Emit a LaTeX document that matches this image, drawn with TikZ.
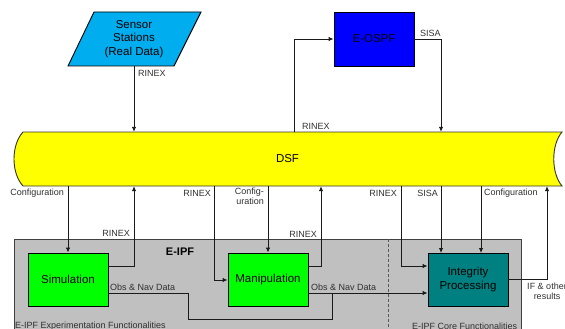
\documentclass[tikz,border=0pt]{standalone}
\usepackage{fontspec}
\setmainfont{Liberation Sans}
\usetikzlibrary{arrows.meta}
\definecolor{ipfgray}{HTML}{C0C0C0}
\definecolor{simgreen}{HTML}{00FF00}
\definecolor{ospfblue}{HTML}{0000FF}
\definecolor{intteal}{HTML}{008080}
\definecolor{dsfyellow}{HTML}{FFFF00}
\definecolor{linecol}{HTML}{1A1A1A}
\definecolor{labcol}{HTML}{303030}
\tikzset{
  conn/.style={draw=linecol, line width=0.9pt},
  arr/.style={conn, -{Latex[length=5pt,width=4.5pt]}},
  lab/.style={font=\fontsize{9}{10}\selectfont, text=labcol, inner sep=0pt},
  procbox/.style={draw=black, line width=0.9pt, minimum width=80pt, minimum height=53pt,
    font=\fontsize{11.5}{13.5}\selectfont, align=center, inner sep=0pt},
}
\begin{document}
\begin{tikzpicture}[x=1pt,y=-1pt]
\useasboundingbox (0,0) rectangle (565,329);
% E-IPF background
\begin{scope}
\clip (0,0) rectangle (565,329);
\fill[ipfgray, draw=black!75, line width=0.8pt] (14,239) rectangle (521,345);
\draw[black!65, line width=1pt, dash pattern=on 3pt off 2pt] (388,239) -- (388,335);
\end{scope}
\node[font=\bfseries\fontsize{11}{13}\selectfont, inner sep=0pt] (eipf) at (180,252) {E-IPF};
\node[lab, anchor=west] (expf) at (15,326) {E-IPF Experimentation Functionalities};
\node[lab, anchor=west] (coref) at (412,326) {E-IPF Core Functionalities};

% Sensor stations parallelogram
\filldraw[fill=cyan, draw=black, line width=0.9pt] (68,66) -- (94,12) -- (201,12) -- (174,66) -- cycle;
\node[font=\fontsize{11.5}{13.5}\selectfont, align=center, minimum height=54pt, inner sep=0pt] (sens) at (134,39) {Sensor\\Stations\\(Real Data)};

% E-OSPF
\node[procbox, fill=ospfblue, minimum height=54pt] (ospf) at (374,39) {E-OSPF};

% DSF shape
\filldraw[fill=dsfyellow, draw=black!80, line width=0.9pt]
  (23,132) -- (562,132) .. controls (551,145) and (551,173) .. (562,186)
  -- (23,186) .. controls (11,173) and (11,145) .. (23,132) -- cycle;
\node[inner sep=0pt, minimum width=539pt, minimum height=54pt, font=\fontsize{11.5}{13.5}\selectfont] (dsf) at (292.5,159) {};
\node[font=\fontsize{11.5}{13.5}\selectfont, inner sep=0pt] (dsflab) at (287.5,159) {DSF};

% processing boxes
\node[procbox, fill=simgreen] (sim) at (68,279.5) {Simulation};
\node[procbox, fill=simgreen] (man) at (268,279.5) {Manipulation};
\node[procbox, fill=intteal] (integ) at (468,279.5) {Integrity\\Processing};

% coordinates for bends
\coordinate (b1) at (294,39);
\coordinate (b2) at (441,39);
\coordinate (b3) at (134,266);
\coordinate (b4) at (214,280);
\coordinate (b5) at (321,266);
\coordinate (b6) at (401,266);
\coordinate (b7) at (547,279);
\coordinate (o1) at (188,293);
\coordinate (o2) at (188,319);
\coordinate (o3) at (332,319);
\coordinate (o4) at (332,293);

% top connectors
\draw[arr] (sens.south) -- (sens.south |- dsf.north);
\node[lab, anchor=west] at (138,73) {RINEX};
\draw[arr] (b1 |- dsf.north) -- (b1) -- (ospf.west);
\node[lab, anchor=west] at (302,126) {RINEX};
\draw[arr] (ospf.east) -- (b2) -- (b2 |- dsf.north);
\node[lab, anchor=west] at (420,33) {SISA};

% bottom connectors
\draw[arr] (sim.north |- dsf.south) -- (sim.north);
\node[lab, anchor=east] at (64,193) {Configuration};
\draw[arr] (sim.east |- b3) -- (b3) -- (b3 |- dsf.south);
\node[lab, anchor=east] at (130,233) {RINEX};
\draw[arr] (b4 |- dsf.south) -- (b4) -- (man.west |- b4);
\node[lab, anchor=east] at (211,193) {RINEX};
\draw[arr] (man.north |- dsf.south) -- (man.north);
\node[lab, anchor=north east, align=right] at (264,188) {Config-\\uration};
\draw[arr] (man.east |- b5) -- (b5) -- (b5 |- dsf.south);
\node[lab, anchor=east] at (317,234) {RINEX};
\draw[arr] (b6 |- dsf.south) -- (b6) -- (integ.west |- b6);
\node[lab, anchor=east] at (397,193) {RINEX};
\draw[arr] (441,186) -- (441,253);
\node[lab, anchor=east] at (438,193) {SISA};
\draw[arr] (481,186) -- (481,253);
\node[lab, anchor=west] at (484,193) {Configuration};
\draw[arr] (integ.east |- b7) -- (b7) -- (b7 |- dsf.south);
\node[lab, align=center, anchor=north] at (547,283) {IF \& other\\results};

% Obs & Nav Data
\draw[conn] (sim.east |- o1) -- (o1) -- (o2) -- (o3) -- (o4);
\node[lab, anchor=west] at (110,287) {Obs \& Nav Data};
\draw[arr] (man.east |- o1) -- (integ.west |- o1);
\node[lab, anchor=west] at (311,287) {Obs \& Nav Data};
\end{tikzpicture}
\end{document}
